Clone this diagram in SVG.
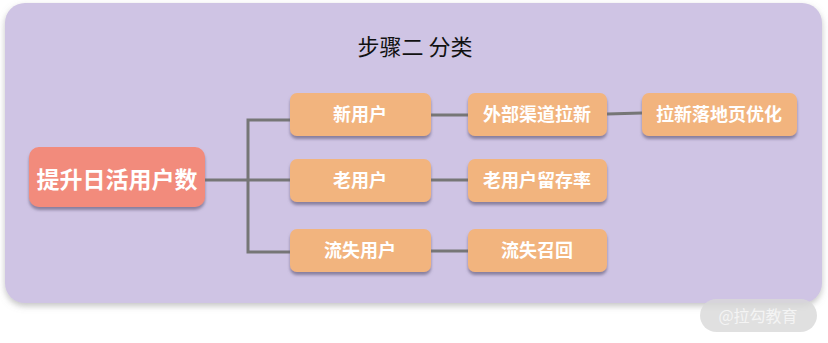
<svg xmlns="http://www.w3.org/2000/svg" width="828" height="343" viewBox="0 0 828 343">
<defs>
<filter id="sh" x="-10%" y="-10%" width="120%" height="140%">
<feDropShadow dx="0" dy="3" stdDeviation="1.5" flood-color="#6b6480" flood-opacity="0.7"/>
</filter>
<filter id="psh" x="-5%" y="-5%" width="110%" height="115%">
<feDropShadow dx="0" dy="3" stdDeviation="3" flood-color="#888" flood-opacity="0.5"/>
</filter>
</defs>
<style>
text{font-family:"Noto Sans CJK SC","Noto Sans",sans-serif;text-anchor:middle;fill:#fff;font-weight:bold}
.n rect{fill:#f2b47e;filter:url(#sh)}
.n text{font-size:18px}
.c{stroke:#767676;stroke-width:3;fill:none}
</style>
<rect x="5" y="3" width="817" height="300" rx="20" fill="#cfc4e4" filter="url(#psh)"/>
<text x="415" y="55" style="fill:#111;font-size:22px;font-weight:normal">步骤二 分类</text>
<g id="connectors">
<path class="c" d="M205,180 H248 M290,120 H248 V252 H290 M248,180 H290"/>
<path class="c" d="M431,115 H468 M431,180 H468 M431,251 H468 M607,114 L642,113"/>
</g>
<g id="root"><rect x="29" y="147" width="176" height="60" rx="10" fill="#f28b7b" filter="url(#sh)"/><text x="117" y="188" style="font-size:23px">提升日活用户数</text></g>
<g id="n1" class="n"><rect x="290" y="93" width="141" height="43" rx="7"/><text x="360" y="121">新用户</text></g>
<g id="n2" class="n"><rect x="290" y="159" width="141" height="43" rx="7"/><text x="360" y="187">老用户</text></g>
<g id="n3" class="n"><rect x="290" y="229" width="141" height="43" rx="7"/><text x="360" y="257">流失用户</text></g>
<g id="n4" class="n"><rect x="468" y="93" width="139" height="43" rx="7"/><text x="537" y="121">外部渠道拉新</text></g>
<g id="n5" class="n"><rect x="468" y="159" width="139" height="43" rx="7"/><text x="537" y="187">老用户留存率</text></g>
<g id="n6" class="n"><rect x="468" y="229" width="139" height="43" rx="7"/><text x="537" y="257">流失召回</text></g>
<g id="n7" class="n"><rect x="642" y="93" width="155" height="43" rx="7"/><text x="719" y="121">拉新落地页优化</text></g>
<g id="wm"><rect x="700" y="299" width="117" height="33" rx="16.5" fill="#d8d8d8" opacity="0.8"/><text x="758" y="322" style="font-size:16px;font-weight:normal;fill:#f4f4f4">@拉勾教育</text></g>
</svg>
